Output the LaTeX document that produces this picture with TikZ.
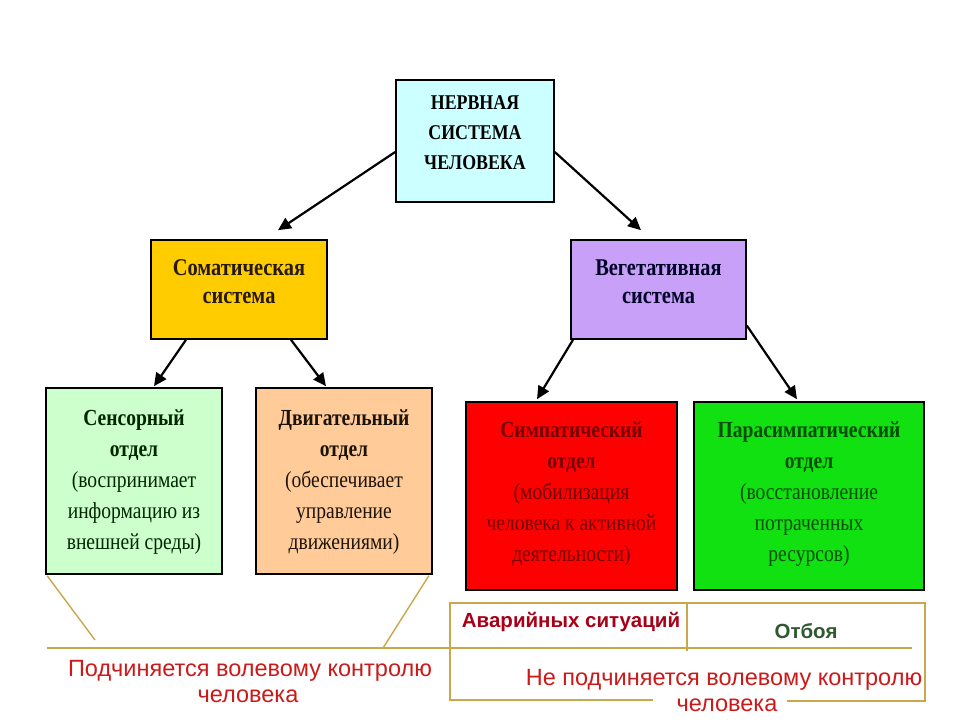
\documentclass[tikz,border=0pt]{standalone}
\usepackage{fontspec}
\setmainfont{Liberation Serif}
\newfontfamily\cond[FakeStretch=0.85]{Liberation Serif}
\newfontfamily\arial{Liberation Sans}
\usetikzlibrary{arrows.meta,calc}
\definecolor{cyanf}{HTML}{CCFFFF}
\definecolor{goldf}{HTML}{FFCC00}
\definecolor{lavf}{HTML}{C9A0F8}
\definecolor{lgreenf}{HTML}{CCFFCC}
\definecolor{peachf}{HTML}{FFCC99}
\definecolor{redf}{HTML}{FF0000}
\definecolor{greenf}{HTML}{11E011}
\definecolor{tanc}{HTML}{C8A84B}
\definecolor{redtxt}{HTML}{CC1A1A}
\definecolor{darkred}{HTML}{A80018}
\definecolor{darkgreen}{HTML}{2F5A2F}
\begin{document}
\begin{tikzpicture}[x=1pt,y=-1pt,
  box/.style={draw=black, line width=1.6pt, inner sep=0pt},
  btxt/.style={align=center, inner sep=0pt, font=\cond\fontsize{23}{31}\selectfont},
  mtxt/.style={align=center, inner sep=0pt, font=\cond\fontsize{24}{28}\selectfont\bfseries},
  ttxt/.style={align=center, inner sep=0pt, font=\cond\fontsize{21}{30}\selectfont\bfseries},
  arr/.style={line width=2.2pt, -{Triangle[length=13pt,width=12pt]}},
  tanline/.style={draw=tanc, line width=1.4pt},
  atxt/.style={inner sep=0pt, anchor=base, text=redtxt, font=\arial\fontsize{23.5}{26}\selectfont},
  htxt/.style={inner sep=0pt, anchor=base, font=\arial\bfseries\fontsize{20.5}{22}\selectfont}
]
\useasboundingbox (0,0) rectangle (960,720);
\fill[white] (0,0) rectangle (960,720);

% boxes
\node[box, fill=cyanf, minimum width=158pt, minimum height=122pt] (top) at (475,141) {};
\node[ttxt] (topT) at (475,133) {НЕРВНАЯ\\СИСТЕМА\\ЧЕЛОВЕКА};

\node[box, fill=goldf, minimum width=176pt, minimum height=99pt] (soma) at (239,289.5) {};
\node[mtxt, text={black!80!brown}] (somaT) at (239,282) {Соматическая\\система};

\node[box, fill=lavf, minimum width=175pt, minimum height=99pt] (veg) at (658.5,289.5) {};
\node[mtxt, text={black!85!blue}] (vegT) at (658.5,282) {Вегетативная\\система};

\node[box, fill=lgreenf, minimum width=176pt, minimum height=186pt] (sens) at (134,481) {};
\node[btxt, text={black!85!green}] (sensT) at (134,482) {\textbf{Сенсорный}\\\textbf{отдел}\\(воспринимает\\информацию из\\внешней среды)};

\node[box, fill=peachf, minimum width=176pt, minimum height=186pt] (motor) at (344,481) {};
\node[btxt, text={black!85!brown}] (motorT) at (344,482) {\textbf{Двигательный}\\\textbf{отдел}\\(обеспечивает\\управление\\движениями)};

\node[box, fill=redf, minimum width=211pt, minimum height=188pt] (symp) at (571.5,496) {};
\node[btxt, text={black!55!red}] (sympT) at (571.5,494) {\textbf{Симпатический}\\\textbf{отдел}\\(мобилизация\\человека к активной\\деятельности)};

\node[box, fill=greenf, minimum width=230pt, minimum height=188pt] (para) at (809,496) {};
\node[btxt, text={black!70!green}] (paraT) at (809,494) {\textbf{Парасимпатический}\\\textbf{отдел}\\(восстановление\\потраченных\\ресурсов)};

% arrows
\draw[arr] ([yshift=-11pt]top.west) -- ([xshift=39pt,yshift=9pt]soma.north);
\draw[arr] ([yshift=-11pt]top.east) -- ([xshift=-17.5pt,yshift=9pt]veg.north);
\draw[arr] ([xshift=-53pt]soma.south) -- ([xshift=20pt,yshift=1pt]sens.north);
\draw[arr] ([xshift=52pt]soma.south) -- ([xshift=-18pt,yshift=1pt]motor.north);
\draw[arr] ([xshift=-85.5pt]veg.south) -- ([xshift=-34.5pt,yshift=2pt]symp.north);
\draw[arr] ([yshift=-36pt]veg.east) -- ([xshift=-12pt,yshift=2pt]para.north);

% tan lines
\coordinate (hl) at (47,648);
\coordinate (hr) at (912,648);
\coordinate (sl) at (95,640);
\coordinate (ml) at (383,648);
\coordinate (tl) at (450,603);
\coordinate (tr) at (925,603);
\coordinate (br) at (925,701);
\coordinate (bl) at (450,700);
\coordinate (bg1) at (653,700);
\coordinate (bg2) at (787,701);
\coordinate (dv1) at (687,603);
\coordinate (dv2) at (687,651);
\draw[tanline] (hl) -- (hr);
\draw[tanline] ([xshift=2pt,yshift=-1pt]sens.south west) -- (sl);
\draw[tanline] ([xshift=-4pt,yshift=-1pt]motor.south east) -- (ml);
\draw[tanline] (bg1) -- (bl) -- (tl) -- (tr) -- (br) -- (bg2);
\draw[tanline] (dv1) -- (dv2);

% texts
\node[atxt] (pod1) at (250,676) {Подчиняется волевому контролю};
\node[atxt] (pod2) at (248,702) {человека};
\node[atxt] (npod1) at (724,685) {Не подчиняется волевому контролю};
\node[atxt] (npod2) at (727,711) {человека};
\node[htxt, text=darkred] (avar) at (571,627) {Аварийных ситуаций};
\node[htxt, text=darkgreen] (otb) at (806,638) {Отбоя};
\end{tikzpicture}
\end{document}
